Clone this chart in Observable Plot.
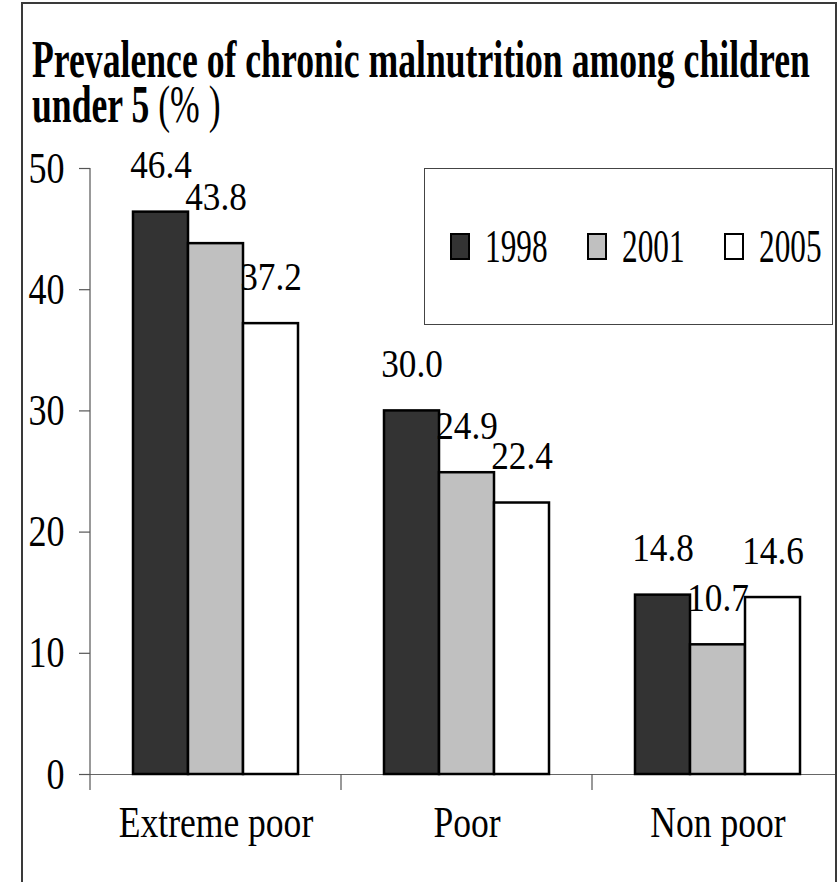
<!DOCTYPE html>
<html><head><meta charset="utf-8">
<script src="https://cdn.jsdelivr.net/npm/d3@7"></script>
<script src="https://cdn.jsdelivr.net/npm/@observablehq/plot@0.6"></script>
<style>
html,body{margin:0;padding:0;overflow:hidden;background:#fff;width:837px;height:882px;}
#wrap{position:relative;width:837px;height:882px;overflow:hidden;font-family:"Liberation Serif","Times New Roman",serif;color:#000;}
#wrap svg{position:absolute;left:0;top:0;}
#wrap svg text{font-family:"Liberation Serif","Times New Roman",serif;}
#frame{position:absolute;left:21px;top:2px;width:812px;height:1000px;border:2px solid #3a3a3a;}
#title{position:absolute;left:32px;top:37px;font-size:52px;line-height:45px;font-weight:bold;white-space:nowrap;transform:scaleX(0.686);transform-origin:0 0;}
#title .n{font-weight:normal;}
#legend{position:absolute;left:424px;top:168px;width:409px;height:157px;box-sizing:border-box;border:1px solid #444;display:flex;align-items:center;padding-left:25px;background:#fff;}
.item{width:137px;display:flex;align-items:center;flex:none;}
.sw{width:20px;height:27px;box-sizing:border-box;border:2.5px solid #000;flex:none;}
.lab{display:inline-block;margin-left:15px;font-size:46px;line-height:1;transform:scaleX(0.68);transform-origin:0 50%;white-space:nowrap;}
</style></head>
<body>
<div id="wrap">
  <div id="frame"></div>
  <div id="title">Prevalence of chronic malnutrition among children<br>under 5 <span class="n">(%&nbsp;)</span></div>
  <div id="legend"></div>
</div>
<script>
const categories = ["Extreme poor", "Poor", "Non poor"];
const years = ["1998", "2001", "2005"];
const v1998 = [46.4, 30.0, 14.8];
const v2001 = [43.8, 24.9, 10.7];
const v2005 = [37.2, 22.4, 14.6];
const yTicks = [0, 10, 20, 30, 40, 50];
const colors = ["#333333", "#c0c0c0", "#ffffff"];

const series = [v1998, v2001, v2005];
const data = categories.flatMap((c, i) => years.map((yr, j) => ({cat: c, year: yr, value: series[j][i]})));

const plot = Plot.plot({
  width: 845, height: 882,
  marginLeft: 89, marginRight: 2, marginTop: 168, marginBottom: 108,
  style: {fontFamily: "Liberation Serif, Times New Roman, serif", background: "transparent", overflow: "visible", maxWidth: "none"},
  fx: {domain: categories, padding: 0, label: null},
  x: {domain: years, paddingInner: 0, paddingOuter: 0.78, axis: null},
  y: {domain: [0, 50], label: null},
  color: {domain: years, range: colors},
  marks: [
    Plot.axisY({ticks: yTicks, tickSize: 11, tickPadding: 15, fontSize: 44, label: null, stroke: "#555", strokeWidth: 1.2}),
    Plot.axisFx({anchor: "bottom", tickSize: 0, tickPadding: 31, fontSize: 45, label: null}),
    Plot.ruleY([0], {stroke: "#666", strokeWidth: 1.2}),
    Plot.barY(data, {fx: "cat", x: "year", y: "value", fill: "year", stroke: "#000", strokeWidth: 2.5, inset: 0}),
    Plot.text(data, {fx: "cat", x: "year", y: "value", text: d => d.value.toFixed(1), lineAnchor: "bottom", dy: -34, fontSize: 40, fill: "#000"})
  ]
});

const wrap = document.getElementById("wrap");
wrap.insertBefore(plot, wrap.firstChild);

// Excel-style boundary ticks and y axis line, positioned with the plot's own scales
const fx = plot.scale("fx"), ys = plot.scale("y");
const g = d3.select(plot).append("g").attr("stroke", "#555").attr("stroke-width", 1.2);
const y0 = ys.apply(0), yTop = ys.apply(d3.max(yTicks));
const xLeft = fx.apply(categories[0]);
g.append("line").attr("x1", xLeft).attr("x2", xLeft).attr("y1", yTop).attr("y2", y0);
categories.forEach(c => {
  const xx = fx.apply(c);
  g.append("line").attr("x1", xx).attr("x2", xx).attr("y1", y0).attr("y2", y0 + 16);
});

// condensed Times look: squeeze each text horizontally
const factors = {44: 0.82, 40: 0.88, 45: 0.79};
plot.querySelectorAll("text").forEach(t => {
  let el = t, fs = null;
  while (el && el !== plot.parentNode) {
    if (el.getAttribute && el.getAttribute("font-size")) { fs = +el.getAttribute("font-size"); break; }
    el = el.parentNode;
  }
  const f = factors[fs];
  if (f) {
    t.setAttribute("textLength", t.getComputedTextLength() * f);
    t.setAttribute("lengthAdjust", "spacingAndGlyphs");
  }
});

// legend
const legend = d3.select("#legend");
years.forEach((yr, i) => {
  const it = legend.append("div").attr("class", "item");
  it.append("div").attr("class", "sw").style("background", colors[i]);
  it.append("span").attr("class", "lab").text(yr);
});
</script>
</body></html>
